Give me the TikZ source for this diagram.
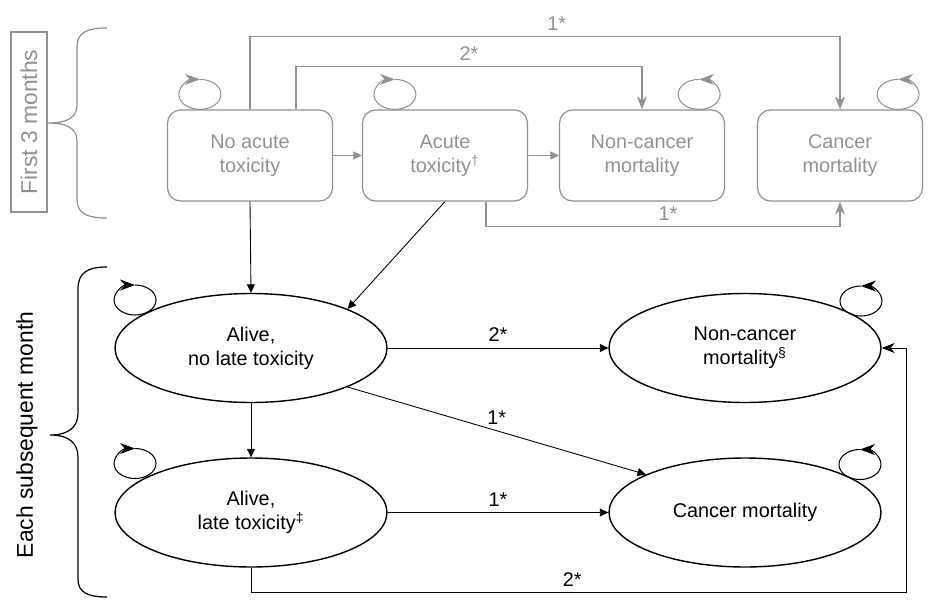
\documentclass[tikz,border=0pt]{standalone}
\usepackage{fontspec}
\setmainfont{Liberation Sans}
\usetikzlibrary{arrows.meta, shapes.geometric}

\definecolor{stategray}{RGB}{145,145,145}

\begin{document}
\begin{tikzpicture}[x=0.02cm, y=0.02cm,
	font=\fontsize{11.3}{13.6}\selectfont,
	tip/.style={-{Triangle[length=1.7mm, width=1.6mm]}},
	bigtip/.style={-{Stealth[length=2.6mm, width=2mm]}},
	box/.style={draw=stategray, text=stategray, rounded corners=0.26cm, minimum width=3.3cm, minimum height=1.82cm, align=center, line width=0.7pt},
	oval/.style={draw, ellipse, minimum width=5.44cm, minimum height=2.18cm, align=center, line width=0.8pt, inner sep=0pt},
	greyline/.style={draw=stategray, line width=0.6pt},
	blackline/.style={draw=black, line width=0.5pt},
	selfloop/.style={-{Stealth[length=3mm, width=2.2mm]}, line width=0.6pt},
	brace/.style={line width=0.7pt},
	side/.style={rotate=90, font=\fontsize{13}{15}\selectfont}]

	\useasboundingbox (0,0) rectangle (928,599);

	% left labels
	\node[side, draw=stategray, text=stategray, minimum width=3.6cm, minimum height=0.72cm, line width=0.7pt] (first) at (29,477) {First 3 months};
	\node[side] (each) at (27,164) {Each subsequent month};

	\draw[brace, stategray] (107,571) .. controls (86,571) and (77,566) .. (77,552) -- (77,494)
		.. controls (77,482) and (68,476) .. (48,476) .. controls (68,476) and (77,470) .. (77,458)
		-- (77,400) .. controls (77,386) and (86,381) .. (107,381);
	\draw[brace] (107,332) .. controls (87,332) and (78,326) .. (78,310) -- (78,186)
		.. controls (78,173) and (70,164) .. (50,164) .. controls (70,164) and (78,155) .. (78,142)
		-- (78,20) .. controls (78,7) and (87,2) .. (107,2);

	% first 3 months
	\node[box] (noacute) at (250,443.5) {No acute\\toxicity};
	\node[box] (acute) at (445,443.5) {Acute\\toxicity\textsuperscript{†}};
	\node[box] (ncmort) at (642,443.5) {Non-cancer\\mortality};
	\node[box] (cmort) at (840,443.5) {Cancer\\mortality};

	\draw[greyline, tip] (noacute.east) -- (acute.west);
	\draw[greyline, tip] (acute.east) -- (ncmort.west);
	\draw[greyline, bigtip] (noacute.north) -- ++(0,73) -| node[pos=0.26, above, text=stategray] {1*} (cmort.north);
	\draw[greyline, bigtip] ([xshift=0.92cm]noacute.north) -- ++(0,43) -| node[pos=0.25, above, text=stategray] {2*} (ncmort.north);
	\draw[greyline, bigtip] ([xshift=0.82cm]acute.south) -- ++(0,-25) -| node[pos=0.257, above, text=stategray] {1*} (cmort.south);

	\draw[selfloop, stategray] ([xshift=0.66cm, yshift=0.6cm]noacute.north west) arc[start angle=90, end angle=-270, x radius=0.42cm, y radius=0.3cm];
	\draw[selfloop, stategray] ([xshift=0.66cm, yshift=0.6cm]acute.north west) arc[start angle=90, end angle=-270, x radius=0.42cm, y radius=0.3cm];
	\draw[selfloop, stategray] ([xshift=-0.52cm, yshift=0.6cm]ncmort.north east) arc[start angle=90, end angle=450, x radius=0.42cm, y radius=0.3cm];
	\draw[selfloop, stategray] ([xshift=-0.5cm, yshift=0.6cm]cmort.north east) arc[start angle=90, end angle=450, x radius=0.42cm, y radius=0.3cm];

	% each subsequent month
	\node[oval] (alive) at (251,251) {Alive,\\no late toxicity};
	\node[oval] (latetox) at (251,86.5) {Alive,\\late toxicity\textsuperscript{‡}};
	\node[oval] (ncdeath) at (745,251) {Non-cancer\\mortality\textsuperscript{§}};
	\node[oval] (cdeath) at (745,86.5) {Cancer mortality};

	\draw[blackline, tip] (noacute.south) -- (alive.north);
	\draw[blackline, tip] (acute.south) -- (alive.22);
	\draw[blackline, tip] (alive.south) -- (latetox.north);
	\draw[blackline, tip] (alive.east) -- node[above] {2*} (ncdeath.west);
	\draw[blackline, tip] (alive.-22) -- node[above] {1*} (cdeath.159);
	\draw[blackline, tip] (latetox.east) -- node[above] {1*} (cdeath.west);
	\draw[blackline, bigtip] (latetox.south) -- ++(0,-25) -| node[pos=0.245, above] {2*} ([xshift=0.5cm]ncdeath.east) -- (ncdeath.east);

	\draw[selfloop] ([xshift=-2.32cm, yshift=1.26cm]alive.center) arc[start angle=90, end angle=-270, x radius=0.42cm, y radius=0.3cm];
	\draw[selfloop] ([xshift=-2.32cm, yshift=1.28cm]latetox.center) arc[start angle=90, end angle=-270, x radius=0.42cm, y radius=0.3cm];
	\draw[selfloop] ([xshift=2.32cm, yshift=1.24cm]ncdeath.center) arc[start angle=90, end angle=450, x radius=0.42cm, y radius=0.3cm];
	\draw[selfloop] ([xshift=2.3cm, yshift=1.26cm]cdeath.center) arc[start angle=90, end angle=450, x radius=0.42cm, y radius=0.3cm];
\end{tikzpicture}
\end{document}
